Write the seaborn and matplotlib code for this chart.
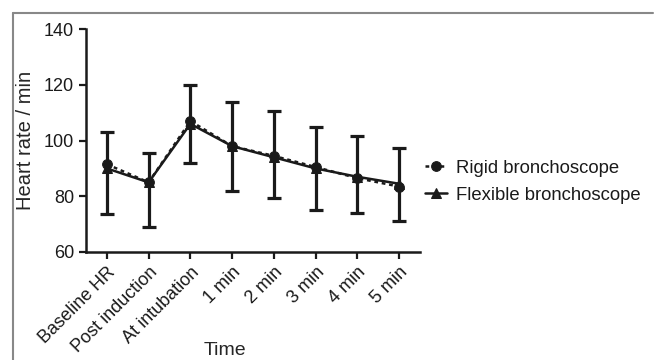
import numpy as np
import pandas as pd
import matplotlib
matplotlib.use("Agg")
import matplotlib.pyplot as plt
import seaborn as sns
from matplotlib.lines import Line2D

# data
times = ["Baseline HR", "Post induction", "At intubation", "1 min", "2 min", "3 min", "4 min", "5 min"]
rigid = [91.5, 85, 107, 98, 94.5, 90.5, 86.5, 83.5]
flexible = [90, 85, 106, 98, 94, 90, 87, 84.5]
err_low = [73.5, 69, 92, 82, 79.5, 75, 74, 71]
err_high = [103, 95.5, 120, 114, 110.5, 105, 101.5, 97.5]

df = pd.DataFrame({
    "Time": times * 2,
    "HR": rigid + flexible,
    "Group": ["Rigid bronchoscope"] * len(times) + ["Flexible bronchoscope"] * len(times),
})

sns.set_theme(style="ticks")
plt.rcParams['font.family'] = ['Liberation Sans', 'DejaVu Sans']

fig = plt.figure(figsize=(6.54, 3.6), dpi=100)
ax = fig.add_axes([86 / 654, 0.30, 334 / 654, 0.619])

# error bars (shared)
x = np.arange(len(times))
mid = np.array(rigid)
ax.errorbar(x, mid, yerr=[mid - np.array(err_low), np.array(err_high) - mid],
            fmt="none", ecolor="#1a1a1a", elinewidth=2.3, capsize=5, capthick=2.3, zorder=2)

sns.lineplot(data=df, x="Time", y="HR", hue="Group", style="Group",
             palette=["#1a1a1a", "#1a1a1a"],
             dashes={"Rigid bronchoscope": (1.5, 1.5), "Flexible bronchoscope": ""},
             markers={"Rigid bronchoscope": "o", "Flexible bronchoscope": "^"},
             markersize=7, markeredgecolor="#1a1a1a", linewidth=1.8, sort=False, ax=ax, zorder=3)

ax.set_ylim(60, 140)
ax.set_yticks([60, 80, 100, 120, 140])
ax.set_xlim(-0.5, 7.5)
ax.set_xticks(x)
ax.set_xticklabels(times, rotation=45, ha="right", rotation_mode="anchor")
ax.set_xlabel("Time", fontsize=14)
ax.set_ylabel("Heart rate / min", fontsize=14.5)
ax.xaxis.set_label_coords(0.416, -0.405)
ax.yaxis.set_label_coords(-0.153, 0.5)
ax.tick_params(labelsize=13, width=1.6, length=5, color="#1a1a1a", labelcolor="#1a1a1a")
for s in ["right", "top"]:
    ax.spines[s].set_visible(False)
for s in ["left", "bottom"]:
    ax.spines[s].set_linewidth(1.8)
    ax.spines[s].set_color("#1a1a1a")

leg = ax.legend(loc="center left", bbox_to_anchor=(0.964, 0.315), frameon=False,
                fontsize=13.3, handlelength=1.2, handletextpad=0.5, labelspacing=0.55)
for t in leg.get_texts():
    t.set_color("#1a1a1a")

# gray frame on top and left
fig.add_artist(Line2D([13 / 654, 653 / 654], [1 - 13 / 360, 1 - 13 / 360], color="#888888", lw=1.5))
fig.add_artist(Line2D([13 / 654, 13 / 654], [0, 1 - 13 / 360], color="#888888", lw=1.5))

fig.savefig("out.png", dpi=100)
